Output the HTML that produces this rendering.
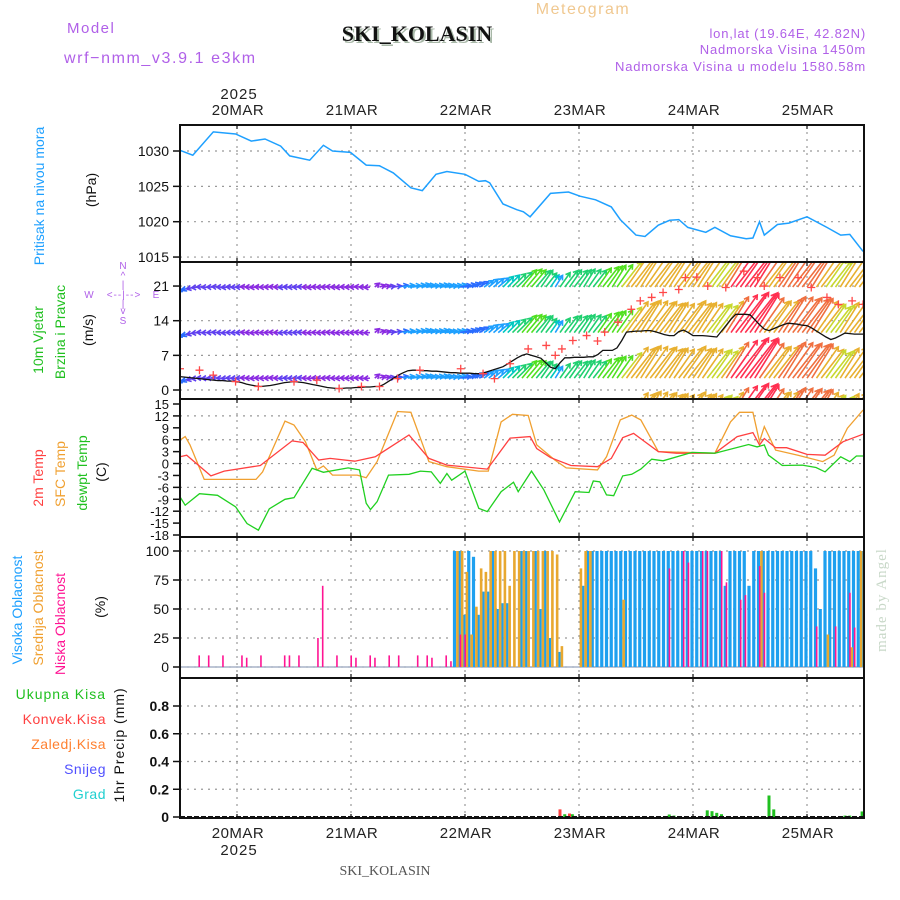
<!DOCTYPE html>
<html><head><meta charset="utf-8"><style>
html,body{margin:0;padding:0;background:#fff;}
svg{display:block;font-family:"Liberation Sans",sans-serif;}
</style></head><body>
<svg id="chart" width="900" height="900" viewBox="0 0 900 900" xmlns="http://www.w3.org/2000/svg">
<defs>
<clipPath id="cw"><rect x="180" y="263" width="684" height="135"/></clipPath>
</defs>
<g>
<text x="67" y="33" font-size="15" fill="#b060e8" letter-spacing="1.5">Model</text>
<text x="64" y="63" font-size="16" fill="#b060e8" letter-spacing="1.6">wrf−nmm_v3.9.1 e3km</text>
<text x="583" y="14" font-size="16" fill="#f0c890" text-anchor="middle" letter-spacing="1.5">Meteogram</text>
<text x="419" y="43" font-size="22" font-weight="bold" font-family="Liberation Serif,serif" fill="#a8b8a8" text-anchor="middle">SKI_KOLASIN</text>
<text x="417" y="41" font-size="22" font-weight="bold" font-family="Liberation Serif,serif" fill="#111" text-anchor="middle">SKI_KOLASIN</text>
<text x="866" y="38" font-size="13" fill="#b060e8" text-anchor="end" letter-spacing="0.8">lon,lat (19.64E, 42.82N)</text>
<text x="866" y="54" font-size="13" fill="#b060e8" text-anchor="end" letter-spacing="0.8">Nadmorska Visina 1450m</text>
<text x="866" y="71" font-size="13" fill="#b060e8" text-anchor="end" letter-spacing="0.8">Nadmorska Visina u modelu 1580.58m</text>
<text x="239" y="99" font-size="15" fill="#222" text-anchor="middle" letter-spacing="1">2025</text>
<text x="385" y="875" font-size="14" font-family="Liberation Serif,serif" fill="#555" text-anchor="middle">SKI_KOLASIN</text>
<text x="239" y="855" font-size="15" fill="#222" text-anchor="middle" letter-spacing="1">2025</text>
<text transform="translate(886,600) rotate(-90)" font-size="15" font-family="Liberation Serif,serif" fill="#c8d8c8" text-anchor="middle" letter-spacing="1">made by Angel</text>
</g>
<g font-size="14">
<text transform="translate(44,196) rotate(-90)" fill="#1ea0ff" text-anchor="middle">Pritisak na nivou mora</text>
<text transform="translate(96,190) rotate(-90)" fill="#111" text-anchor="middle">(hPa)</text>
<text transform="translate(43,340) rotate(-90)" fill="#20c020" text-anchor="middle">10m Vjetar</text>
<text transform="translate(65,332) rotate(-90)" fill="#20c020" text-anchor="middle">Brzina i Pravac</text>
<text transform="translate(93,330) rotate(-90)" fill="#111" text-anchor="middle">(m/s)</text>
<text transform="translate(43,478) rotate(-90)" fill="#ff4040" text-anchor="middle">2m Temp</text>
<text transform="translate(65,474) rotate(-90)" fill="#f0a030" text-anchor="middle">SFC Temp</text>
<text transform="translate(87,473) rotate(-90)" fill="#20c020" text-anchor="middle">dewpt Temp</text>
<text transform="translate(106,472) rotate(-90)" fill="#111" text-anchor="middle">(C)</text>
<text transform="translate(22,610) rotate(-90)" fill="#1ea0ff" text-anchor="middle">Visoka Oblacnost</text>
<text transform="translate(43,608) rotate(-90)" fill="#f0a030" text-anchor="middle">Srednja Oblacnost</text>
<text transform="translate(65,624) rotate(-90)" fill="#ff1493" text-anchor="middle">Niska Oblacnost</text>
<text transform="translate(105,607) rotate(-90)" fill="#111" text-anchor="middle">(%)</text>
<text transform="translate(124,745) rotate(-90)" fill="#111" text-anchor="middle" letter-spacing="1">1hr Precip (mm)</text>
<text x="106" y="699" fill="#20c020" text-anchor="end" letter-spacing="1">Ukupna Kisa</text>
<text x="106" y="724" fill="#ff4040" text-anchor="end" letter-spacing="0.5">Konvek.Kisa</text>
<text x="106" y="749" fill="#ff8030" text-anchor="end" letter-spacing="0.5">Zaledj.Kisa</text>
<text x="106" y="774" fill="#5050ff" text-anchor="end" letter-spacing="0.5">Snijeg</text>
<text x="106" y="799" fill="#20d0d0" text-anchor="end" letter-spacing="0.5">Grad</text>
</g>
<g fill="#b060e8" font-size="10" text-anchor="middle">
<text x="123" y="269">N</text><text x="123" y="279">^</text><text x="123" y="288">|</text>
<text x="89" y="298">W</text><text x="124" y="298" letter-spacing="1">&lt;--|--&gt;</text><text x="156" y="298">E</text>
<text x="123" y="307">|</text><text x="123" y="314">v</text><text x="123" y="324">S</text>
</g>
<g id="layer"></g>
</svg>
<script>
// ---------- data ----------
const dayHours = [12, 36, 60, 84, 108, 132];
const dayLabels = ["20MAR", "21MAR", "22MAR", "23MAR", "24MAR", "25MAR"];
const presTicks = [1030, 1025, 1020, 1015];
const windTicks = [21, 14, 7, 0];
const tempTicks = [15, 12, 9, 6, 3, 0, -3, -6, -9, -12, -15, -18];
const cloudTicks = [100, 75, 50, 25, 0];
const precTicks = [0.8, 0.6, 0.4, 0.2, 0];
const precTickLabels = ["0.8", "0.6", "0.4", "0.2", "0"];

const presH = [0,2.7,7,11.7,15,17.9,21.2,23.1,27.3,30.2,32.1,35.9,39.2,42,44.9,48.6,51,53.9,56.2,60,62.9,64.3,65.2,68,70.9,72.3,73.7,78,81.8,84.2,87.5,90.8,92.7,96,97.9,100.7,103.1,105,106.9,110.7,112.6,115.9,119.2,120.6,122,123,125.8,128.2,132,136.2,139.1,141,143.8];
const presV = [1030.1,1029.4,1032.7,1032.4,1031.4,1031.7,1030.7,1029.3,1028.7,1030.8,1030,1029.8,1028,1027.9,1026.9,1024.8,1024.4,1026.7,1027.1,1026.7,1025.7,1025.8,1025.5,1022.5,1021.7,1021.4,1020.7,1024,1024.2,1023.6,1023.1,1022.1,1020.3,1018.1,1017.9,1019.5,1020.2,1020.3,1019.2,1018.5,1019.2,1018,1017.6,1017.7,1020,1018.1,1019.6,1019.8,1020.7,1019.2,1018.1,1018.2,1015.8];

const t2H = [0,1.4,6.5,9.3,16.9,23.6,25.9,29.2,31.6,36.8,41.1,48.2,52.4,56.2,64.7,69.5,73.7,75.1,78,82.3,87.9,90.8,93.2,95.5,100.7,104.5,112.6,117.3,120.6,122,123,125.4,127.7,132,135.8,139.6,143.8];
const t2V = [1.7,2.1,-3.1,-1.9,-0.5,5.7,5.3,0.9,1.3,0.6,1.7,7.2,1.3,-0.4,-1.4,6.4,6.8,3.8,1.5,-0.5,-0.8,1.3,6.5,7.6,3,2.6,2.6,6.8,7.8,4.7,6.3,4,4,2.3,2.1,5.5,7.4];
const sfcH = [0,1.1,2.1,5.1,16,17.4,22.1,24,26.4,28.8,30.2,32.1,37.3,39.2,41.5,45.8,48.6,52.4,56.2,62.9,64.9,67.6,70,73.3,75.1,78.9,81.3,87.9,89.8,92.7,95.1,97,100.7,112.6,115.9,117.8,120.6,122,123,125.4,130.1,135.3,137.7,140.5,143.8];
const sfcV = [5.9,6.8,4.7,-4,-4,-2.1,10.7,9.7,5.5,-1.6,-0.6,-2.9,-2.9,-3.6,0.5,13.1,12.9,0.5,-0.8,-1.9,-1.9,10.5,12.4,12.1,4.7,0.9,-1.1,-1.6,1.7,11,12.2,11,3,2.6,10.5,12.9,12.9,5.5,9.3,3.4,2.1,0.5,2.1,8.9,13.5];
const dewH = [0,1.1,4.1,7.9,11.7,14.1,16.5,18.8,22.1,24,27.8,30.2,35.4,37.8,39.2,40.1,41.5,43.9,48.2,50.6,52.9,54.8,56.2,57.2,60,62.9,64.7,67.6,70.2,71.2,74,76.6,79.9,83.2,86.1,87,88.4,89.8,91.3,93.2,95.1,97,99.3,101.7,107.8,112.6,119.7,121.5,123,123.9,126.8,131,133.9,135.8,139.1,141,142.4,144];
const dewV = [-8.4,-10.5,-7.6,-8,-10.9,-15.1,-16.8,-11.4,-9,-8.6,-1.2,-2.2,-1.1,-1.6,-10,-11.6,-9.6,-2.9,-2.7,-1.9,-2.1,-5,-2.5,-4.2,-1.9,-11.3,-12.1,-7.1,-4.7,-7.1,-1.9,-6.6,-14.7,-7.1,-7.3,-4.4,-4.6,-7.9,-8.1,-3.1,-2.7,-1.4,1.1,0.7,2.8,2.6,4.8,4.2,4.7,2.1,-0.5,-0.4,-1,-2.1,1.7,0.5,1.9,1.9];

// hourly wind speed (m/s) and arrow direction (deg, math convention)
const windSpd = [2.7,2.6,2.5,2.4,2.3,2.2,2.1,2.0,1.9,1.9,1.8,1.8,1.7,
1.5,1.2,1.0,0.8,0.7,0.8,0.9,1.1,1.3,1.5,1.6,1.7,
1.6,1.5,1.3,1.1,0.9,0.7,0.5,0.4,0.3,0.3,0.4,0.4,
0.5,0.5,0.6,0.6,0.7,0.7,1.2,1.8,2.4,3.0,3.5,3.9,
4.0,4.0,3.9,3.9,3.8,3.8,3.7,3.6,3.5,3.5,3.4,3.4,
3.4,3.3,3.3,3.5,3.8,4.1,4.4,4.7,5.3,5.9,6.5,7.0,
7.3,7.0,6.7,6.4,5.5,4.6,4.3,5.5,6.5,6.5,6.6,6.6,
6.6,6.7,6.7,7.2,8.0,8.0,8.0,8.5,10.0,11.7,11.8,11.9,
11.9,12.0,12.0,11.8,11.5,11.2,11.0,11.0,11.8,12.1,11.6,11.0,
11.0,11.0,10.9,10.8,10.7,11.9,13.1,14.3,15.3,15.3,15.3,15.2,
14.2,13.2,12.3,12.0,12.4,12.8,13.2,13.5,13.4,13.3,13.1,13.0,
12.5,11.9,11.3,10.7,10.2,10.5,11.0,11.5,11.4,11.3,11.3,11.3];
const windDir = [215,215,205,195,185,
178,182,180,176,180,184,178,182,180,176,180,184,178,182,180,176,180,184,
178,182,180,176,180,184,178,182,180,176,180,184,178,182,180,176,180,184,
40,20,15,10,
10,12,10,8,10,12,10,8,10,12,10,8,10,12,10,15,20,25,
30,35,40,40,40,45,45,45,45,50,50,50,50,
55,52,55,58,55,52,55,52,55,58,55,52,55,52,55,58,55,52,55,52,55,58,55,52,
55,52,55,58,55,52,55,52,55,58,55,52,55,52,55,58,55,52,55,52,55,58,55,52,
55,52,55,58,55,52,55,52,55,58,55,52,55,52,55,58,55,52,55,52,55];
const gustH = [0,4.1,7,11.7,16.5,24,28.8,33.5,38.2,42,45.8,50.5,59.1,63.8,66.2,69.5,73.3,77.1,79,80.4,82.7,85.6,87.9,89.4,92.2,95,96.9,99.3,101.7,105,106.4,108.8,111.1,114.9,118.7,121.6,123,126.3,130.1,132.9,136.2,138.6,141.5,143.8];
const gustV = [4.3,4,3,1.7,0.7,1.7,2,0.3,0.7,0.7,2.3,4,4.3,3.3,2.3,5.3,8.3,9,7,8.3,10,11,9.9,11.7,13.7,16.3,18,18.7,19.7,20.3,22.7,22.8,21,20.7,24,22.7,21,22.7,22.7,20.7,18.7,17.3,18,17.3];
const windRows = [-6.8, 2.4, 11.6, 20.8, 30];

const cloudHigh = [0,0,0,0,0,0,0,0,0,0, 0,0,0,0,0,0,0,0,0,0, 0,0,0,0,0,0,0,0,0,0, 0,0,0,0,0,0,0,0,0,0, 0,0,0,0,0,0,0,0,0,0,
0,0,0,0,0,0,0,0,100,100, 45,100,95,45,65,65,100,50,55,55, 0,0,100,100,0,100,50,100,25,0, 13,0,0,0,0,70,100,100,100,100,
100,100,100,100,100,100,100,100,100,100, 100,100,100,100,100,100,100,100,100,100, 100,100,100,100,100,70,100,100,100,100,
70,100,100,100,100,100,100,100,100,100, 100,100,100,100,85,50,100,100,100,100, 100,100,100,100,100];
const cloudMid = [0,0,0,0,0,0,0,0,0,0, 0,0,0,0,0,0,0,0,0,0, 0,0,0,0,0,0,0,0,0,0, 0,0,0,0,0,0,0,0,0,0, 0,0,0,0,0,0,0,0,0,0,
0,0,0,0,0,0,0,0,100,100, 82,28,52,85,82,100,100,100,100,70, 100,100,100,100,100,100,100,100,100,97, 18,0,0,0,85,100,100,0,0,0,
0,0,0,58,0,0,0,0,0,0, 0,0,0,0,0,0,0,0,0,0, 0,0,0,0,0,0,0,0,0,0,
0,0,100,0,0,0,0,0,0,0, 0,0,0,0,0,0,28,0,0,0, 0,17,0,100,0];
const cloudLow = [0,0,0,0,10,0,10,0,0,10, 0,0,0,10,8,0,0,10,0,0, 0,0,10,10,0,10,0,0,0,25, 70,0,0,10,0,0,10,8,0,0, 10,8,0,0,10,0,10,0,0,0,
10,0,10,8,0,0,10,5,0,28, 28,0,0,0,0,0,0,0,0,0, 0,0,0,0,0,0,0,0,0,0, 0,0,0,0,0,0,0,0,0,0,
0,0,0,0,0,0,0,0,0,0, 0,0,0,85,0,0,100,90,0,0, 100,100,0,0,100,73,0,0,58,62,
0,0,87,64,0,0,0,0,0,0, 0,0,0,0,35,0,0,0,35,0, 0,64,34,0,0];

const convH = [80, 82];
const convV = [0.055, 0.025];
const totH = [81, 82.6, 103, 104, 111, 112, 113, 114, 124, 125, 140, 141, 143.6];
const totV = [0.02, 0.02, 0.018, 0.01, 0.048, 0.042, 0.03, 0.02, 0.155, 0.055, 0.01, 0.01, 0.04];

// ---------- scales ----------
const X0 = 180, PXH = 4.75;
function xs(h){ return X0 + h * PXH; }
function pY(p){ return 151 + (1030 - p) * 7.07; }
function wY(s){ return 390 - s * 4.95; }
function tY(t){ return 404 + (15 - t) * 3.97; }
function cY(c){ return 667 - c * 1.16; }
function rY(r){ return 817 - r * 138.75; }
const panels = [[125,262],[262,399],[399,537],[537,678],[678,818]];

const NS = "http://www.w3.org/2000/svg";
const layer = document.getElementById('layer');
function mk(tag, attrs, parent){
  const e = document.createElementNS(NS, tag);
  for (const k in attrs) e.setAttribute(k, attrs[k]);
  (parent || layer).appendChild(e);
  return e;
}
function grp(name){
  const g = mk('g', {});
  
  
  return g;
}

// grids
const grid = grp('grid-lines');
panels.forEach(function(p){
  dayHours.forEach(function(h){
    const l = mk('line', {x1: xs(h), x2: xs(h), y1: p[0], y2: p[1], stroke: '#999', 'stroke-width': 1.2, 'stroke-dasharray': '2,5'}, grid);
    
    
  });
});
function hgrid(vals, f){
  vals.forEach(function(v){
    const l = mk('line', {x1: 180, x2: 864, y1: f(v), y2: f(v), stroke: '#999', 'stroke-width': 1.2, 'stroke-dasharray': '2,5'}, grid);
    
    
  });
}
hgrid(presTicks, pY); hgrid(windTicks, wY); hgrid([12,6,0,-6,-12], tY); hgrid(cloudTicks, cY); hgrid([0.8,0.6,0.4,0.2], rY);

// tick labels
const tl = grp('tick-labels');
function ylabels(vals, f, labels, size, bold){
  vals.forEach(function(v, i){
    const t = mk('text', {x: 169, y: f(v) + 5, 'font-size': size, 'text-anchor': 'end', fill: '#111', 'font-weight': bold ? 'bold' : 'normal'}, tl);
    
    
    t.textContent = labels ? labels[i] : String(v);
    const k = mk('line', {x1: 173, x2: 180, y1: f(v), y2: f(v), stroke: '#111', 'stroke-width': 1.5}, tl);
    
    
  });
}
ylabels(presTicks, pY, null, 14);
ylabels(windTicks, wY, null, 14);
ylabels(tempTicks, tY, null, 13);
ylabels(cloudTicks, cY, null, 14);
ylabels(precTicks, rY, precTickLabels, 14, true);
dayHours.forEach(function(h, i){
  const t = mk('text', {x: xs(h) + 1, y: 115, 'font-size': 15, 'text-anchor': 'middle', fill: '#222', 'letter-spacing': 0.5}, tl);
  
  
  t.textContent = dayLabels[i];
  const b = mk('text', {x: xs(h) + 1, y: 838, 'font-size': 15, 'text-anchor': 'middle', fill: '#222', 'letter-spacing': 0.5}, tl);
  
  
  b.textContent = dayLabels[i];
});

function pathFrom(hs, vs, f){
  return hs.map(function(h, i){ return (i ? 'L' : 'M') + xs(h).toFixed(1) + ',' + f(vs[i]).toFixed(1); }).join(' ');
}

// pressure
const pl = mk('path', {d: pathFrom(presH, presV, pY), fill: 'none', stroke: '#1ea0ff', 'stroke-width': 1.5});



// wind arrows
function windColor(s){
  if (s < 1.5) return '#8a2be2';
  if (s < 2.5) return '#6040f0';
  if (s < 3.5) return '#2a6cff';
  if (s < 4.5) return '#1ea0ff';
  if (s < 5.5) return '#00c8c0';
  if (s < 7) return '#20d070';
  if (s < 9) return '#50e020';
  if (s < 11) return '#c8d830';
  if (s < 12.5) return '#e8b030';
  if (s < 14) return '#f07040';
  return '#ff3050';
}
const wg = mk('g', {'clip-path': 'url(#cw)'});


windRows.forEach(function(row){
  windSpd.forEach(function(s, h){
    const L = Math.max(6, s * 3.2);
    const a = windDir[h] * Math.PI / 180;
    const x1 = xs(h), y1 = wY(row);
    const x2 = x1 + L * Math.cos(a), y2 = y1 - L * Math.sin(a);
    const c = windColor(s);
    const ar = mk('path', {}, wg);
    const ha = 0.55, hl = 5;
    const b1x = x2 - hl * Math.cos(a - ha), b1y = y2 + hl * Math.sin(a - ha);
    const b2x = x2 - hl * Math.cos(a + ha), b2y = y2 + hl * Math.sin(a + ha);
    ar.setAttribute('d', 'M' + x1 + ',' + y1 + ' L' + x2 + ',' + y2 + ' M' + b1x + ',' + b1y + ' L' + x2 + ',' + y2 + ' L' + b2x + ',' + b2y);
    ar.setAttribute('stroke', c);
    ar.setAttribute('stroke-width', 1.6);
    ar.setAttribute('fill', 'none');
    
    
  });
});
const ws = mk('path', {d: pathFrom(windSpd.map(function(v, i){ return i; }), windSpd, wY), fill: 'none', stroke: '#111', 'stroke-width': 1.3, 'clip-path': 'url(#cw)'});


const gg = mk('g', {'clip-path': 'url(#cw)'});


gustH.forEach(function(h, i){
  const x = xs(h), y = wY(gustV[i]);
  const m = mk('path', {d: 'M' + (x - 4) + ',' + y + ' L' + (x + 4) + ',' + y + ' M' + x + ',' + (y - 4) + ' L' + x + ',' + (y + 4), stroke: '#ff4848', 'stroke-width': 1.3}, gg);
  
  
});

// temperature
const tempSeries = [[sfcH, sfcV, '#f0a030', 'sfc-temp-line'], [t2H, t2V, '#ff4040', 'temp-2m-line'], [dewH, dewV, '#20d020', 'dewpoint-line']];
tempSeries.forEach(function(s){
  const p = mk('path', {d: pathFrom(s[0], s[1], tY), fill: 'none', stroke: s[2], 'stroke-width': 1.3});
  
  
});

// clouds
const cg = grp('cloud-bars');
mk('line', {x1: 180, x2: 864, y1: 667, y2: 667, stroke: '#a8b4c8', 'stroke-width': 1.5}, cg);
cloudHigh.forEach(function(v, h){
  if (v > 0) {
    const r = mk('rect', {x: xs(h) - 2.6, y: cY(v), width: 3.2, height: 667 - cY(v), fill: '#1ea0ef'}, cg);
    
    
  }
});
cloudMid.forEach(function(v, h){
  if (v > 0) {
    const r = mk('rect', {x: xs(h) + 0.6, y: cY(v), width: 2.6, height: 667 - cY(v), fill: '#e8a830'}, cg);
    
    
  }
});
cloudLow.forEach(function(v, h){
  if (v > 0) {
    const r = mk('rect', {x: xs(h) - 0.6, y: cY(v), width: 1.6, height: 667 - cY(v), fill: '#ff1493'}, cg);
    
    
  }
});

// precipitation
const rg = grp('precip-bars');
totH.forEach(function(h, i){
  const r = mk('rect', {x: xs(h) - 1.5, y: rY(totV[i]), width: 3, height: 817 - rY(totV[i]), fill: '#20c020'}, rg);
  
  
});
convH.forEach(function(h, i){
  const r = mk('rect', {x: xs(h) - 1.5, y: rY(convV[i]), width: 3, height: 817 - rY(convV[i]), fill: '#ff4040'}, rg);
  
  
});
const zl = mk('line', {x1: 180, x2: 864, y1: 817, y2: 817, stroke: '#111', 'stroke-width': 2, 'stroke-dasharray': '5,2'}, rg);



// frames
const fr = grp('panel-frames');
panels.forEach(function(p){
  const r = mk('rect', {x: 180, y: p[0], width: 684, height: p[1] - p[0], fill: 'none', stroke: '#111', 'stroke-width': 2}, fr);
  
  
  dayHours.forEach(function(h){
    mk('line', {x1: xs(h), x2: xs(h), y1: p[0], y2: p[0] + 4, stroke: '#111', 'stroke-width': 1.2}, fr);
    mk('line', {x1: xs(h), x2: xs(h), y1: p[1] - 4, y2: p[1], stroke: '#111', 'stroke-width': 1.2}, fr);
  });
});
</script>
</body></html>
